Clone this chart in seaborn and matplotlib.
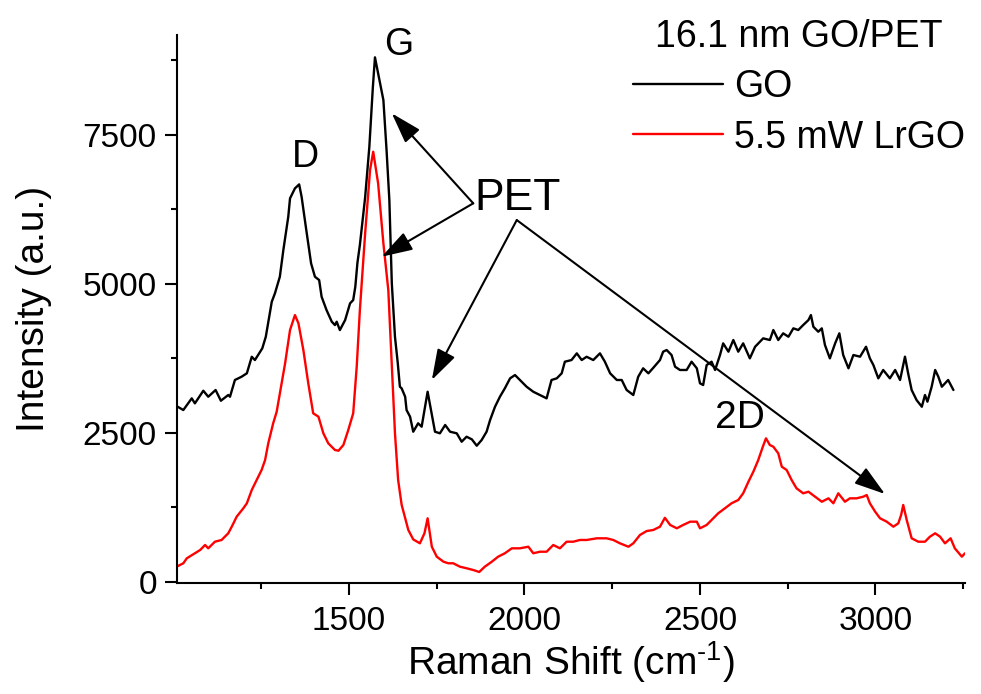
import matplotlib
matplotlib.use("Agg")
import matplotlib.pyplot as plt
from matplotlib.lines import Line2D
from matplotlib.ticker import FixedLocator
import pandas as pd
import seaborn as sns

# Raman spectra of 16.1 nm GO film on PET, before and after laser reduction
go_shift = [1012, 1028, 1052, 1061, 1085, 1099, 1120, 1135, 1156, 1161, 1175, 1194,
            1209, 1223, 1232, 1253, 1263, 1280, 1289, 1303, 1313, 1327, 1332, 1346,
            1358, 1365, 1377, 1392, 1403, 1415, 1422, 1436, 1451, 1460, 1465, 1474,
            1489, 1503, 1512, 1518, 1524, 1531, 1546, 1558, 1568, 1574, 1598, 1607,
            1615, 1622, 1631, 1639, 1645, 1650, 1660, 1664, 1674, 1683, 1697, 1707,
            1724, 1745, 1759, 1774, 1788, 1807, 1821, 1835, 1850, 1864, 1878, 1892,
            1902, 1916, 1930, 1944, 1959, 1973, 1987, 2006, 2025, 2044, 2063, 2077,
            2092, 2106, 2115, 2134, 2149, 2163, 2177, 2196, 2215, 2229, 2244, 2263,
            2277, 2291, 2310, 2324, 2338, 2353, 2367, 2386, 2395, 2405, 2419, 2429,
            2443, 2462, 2476, 2491, 2500, 2509, 2519, 2533, 2543, 2557, 2566, 2581,
            2595, 2609, 2623, 2642, 2657, 2680, 2699, 2709, 2723, 2737, 2752, 2766,
            2780, 2794, 2809, 2816, 2823, 2837, 2847, 2856, 2870, 2885, 2897, 2908,
            2923, 2937, 2956, 2973, 2984, 2994, 3008, 3022, 3041, 3056, 3070, 3084,
            3093, 3103, 3117, 3132, 3141, 3148, 3160, 3170, 3179, 3189, 3198, 3207,
            3222]
go_intensity = [2936, 2881, 3077, 2993, 3205, 3104, 3217, 3037, 3133, 3104, 3385, 3440,
                3497, 3775, 3720, 3916, 4111, 4698, 4839, 5118, 5566, 6125, 6433, 6601,
                6668, 6460, 5957, 5343, 5118, 5062, 4782, 4559, 4363, 4307, 4363, 4223,
                4391, 4671, 4727, 4950, 5350, 5650, 6450, 7300, 8300, 8800, 8083, 7244,
                6405, 5007, 4111, 3665, 3272, 3245, 3104, 2881, 2769, 2517, 2658, 2601,
                3188, 2517, 2490, 2630, 2517, 2490, 2349, 2433, 2389, 2282, 2378, 2517,
                2713, 2936, 3104, 3245, 3413, 3468, 3385, 3272, 3188, 3133, 3077, 3385,
                3413, 3497, 3692, 3720, 3832, 3720, 3775, 3720, 3832, 3692, 3497, 3385,
                3385, 3217, 3133, 3440, 3581, 3497, 3590, 3720, 3860, 3888, 3804, 3608,
                3553, 3553, 3692, 3581, 3329, 3301, 3636, 3692, 3553, 3804, 4000, 3860,
                4056, 3860, 4000, 3748, 3943, 4084, 4056, 4224, 4056, 4168, 4111, 4252,
                4224, 4307, 4391, 4475, 4279, 4195, 4252, 3972, 3748, 4000, 4168, 3804,
                3581, 3804, 3776, 3943, 3748, 3636, 3413, 3553, 3413, 3553, 3385, 3776,
                3497, 3217, 3049, 2936, 3133, 3021, 3272, 3553, 3440, 3272, 3329, 3385,
                3217]

lrgo_shift = [1009, 1028, 1038, 1061, 1076, 1090, 1099, 1118, 1137, 1156, 1166, 1180,
              1199, 1209, 1223, 1237, 1251, 1261, 1270, 1284, 1294, 1308, 1318, 1332,
              1346, 1356, 1370, 1384, 1398, 1413, 1427, 1441, 1460, 1470, 1484, 1498,
              1512, 1522, 1531, 1546, 1560, 1569, 1583, 1598, 1612, 1622, 1631, 1640,
              1650, 1669, 1683, 1702, 1715, 1724, 1736, 1750, 1769, 1783, 1797, 1816,
              1835, 1854, 1871, 1887, 1907, 1925, 1944, 1964, 1987, 2011, 2025, 2044,
              2063, 2082, 2101, 2120, 2139, 2158, 2177, 2206, 2234, 2253, 2272, 2296,
              2310, 2329, 2348, 2367, 2386, 2400, 2415, 2434, 2452, 2472, 2491, 2500,
              2519, 2533, 2552, 2571, 2590, 2609, 2623, 2638, 2652, 2666, 2679, 2688,
              2699, 2709, 2723, 2733, 2747, 2761, 2775, 2794, 2809, 2828, 2847, 2866,
              2880, 2894, 2913, 2927, 2946, 2965, 2975, 2984, 2999, 3013, 3032, 3051,
              3065, 3073, 3079, 3089, 3103, 3122, 3141, 3155, 3170, 3184, 3198, 3214,
              3226, 3246, 3255]
lrgo_intensity = [252, 309, 393, 477, 532, 616, 560, 671, 700, 812, 923, 1091,
                  1232, 1316, 1539, 1707, 1874, 2042, 2322, 2658, 2853, 3329, 3665, 4223,
                  4475, 4336, 3888, 3329, 2826, 2769, 2490, 2322, 2210, 2198, 2294, 2546,
                  2826, 3608, 4559, 5846, 6908, 7216, 6685, 5678, 4895, 3608, 2490, 1707,
                  1290, 868, 710, 644, 812, 1064, 587, 420, 336, 309, 309, 252,
                  225, 196, 163, 252, 336, 420, 477, 560, 560, 587, 477, 503,
                  503, 616, 560, 671, 671, 700, 700, 728, 728, 700, 644, 587,
                  644, 784, 850, 868, 923, 1072, 952, 896, 952, 1007, 1007, 896,
                  952, 1035, 1148, 1232, 1316, 1371, 1483, 1678, 1846, 2042, 2265, 2406,
                  2294, 2265, 2154, 1930, 1874, 1707, 1567, 1483, 1510, 1426, 1342, 1399,
                  1316, 1483, 1342, 1399, 1399, 1426, 1455, 1316, 1175, 1064, 1007, 923,
                  980, 1119, 1287, 1035, 728, 671, 671, 755, 812, 755, 644, 728,
                  560, 420, 477]

series_names = ["GO", "5.5 mW LrGO"]
series_colors = ["#000000", "#ff0000"]
legend_title = "16.1 nm GO/PET"

x_major = [1500, 2000, 2500, 3000]
x_minor = [1250, 1750, 2250, 2750, 3250]
y_major = [0, 2500, 5000, 7500]
y_minor = [1250, 3750, 6250, 8750]

# peak labels and PET arrows (text, anchor in data units)
peak_labels = [("D", 1375, 6959, 27), ("G", 1642, 8838, 27),
               ("PET", 1980, 6236, 32), ("2D", 2613, 2579, 28)]
pet_arrows = [((1854, 6350), (1622, 7860)),
              ((1854, 6350), (1593, 5454)),
              ((1978, 6069), (1736, 3385)),
              ((1978, 6069), (3027, 1472))]

sns.set_style("ticks")
plt.rcParams["font.family"] = ["Liberation Sans", "DejaVu Sans"]
plt.rcParams["mathtext.fontset"] = "custom"
plt.rcParams["mathtext.rm"] = "Liberation Sans"
plt.rcParams["mathtext.it"] = "Liberation Sans"
plt.rcParams["mathtext.default"] = "regular"
for key in ("text.color", "axes.labelcolor", "xtick.color", "ytick.color",
            "axes.edgecolor"):
    plt.rcParams[key] = "black"

df = pd.concat([
    pd.DataFrame({"shift": go_shift, "intensity": go_intensity, "sample": series_names[0]}),
    pd.DataFrame({"shift": lrgo_shift, "intensity": lrgo_intensity, "sample": series_names[1]}),
], ignore_index=True)

fig = plt.figure(figsize=(9.81, 6.94), dpi=100)
ax = fig.add_axes([177 / 981, 1 - 583 / 694, (965 - 177) / 981, (583 - 35) / 694])

sns.lineplot(data=df, x="shift", y="intensity", hue="sample",
             palette=dict(zip(series_names, series_colors)), hue_order=series_names,
             estimator=None, sort=False, linewidth=1.7, legend=False, ax=ax)

ax.set_xlim(1010, 3255)
ax.set_ylim(-22, 9175)
ax.xaxis.set_major_locator(FixedLocator(x_major))
ax.xaxis.set_minor_locator(FixedLocator(x_minor))
ax.yaxis.set_major_locator(FixedLocator(y_major))
ax.yaxis.set_minor_locator(FixedLocator(y_minor))

sns.despine(ax=ax)
for side in ("left", "bottom"):
    ax.spines[side].set_linewidth(1.5)
    ax.spines[side].set_color("black")
ax.tick_params(which="major", direction="out", length=8.5, width=1.5, color="black",
               labelsize=24, labelcolor="black")
ax.tick_params(which="minor", direction="out", length=4.5, width=1.5, color="black")
ax.tick_params(axis="x", which="major", pad=8)
ax.tick_params(axis="y", which="major", pad=6)

ax.set_xlabel(r"Raman Shift (cm$^{\text{-}1}$)", fontsize=28, labelpad=2)
ax.set_ylabel("Intensity (a.u.)", fontsize=28, labelpad=22)

for text, x, y, size in peak_labels:
    ax.text(x, y, text, fontsize=size, ha="center", va="baseline", color="black")

for start, tip in pet_arrows:
    ax.annotate("", xy=tip, xytext=start,
                arrowprops=dict(arrowstyle="-|>,head_length=1.9,head_width=0.6",
                                mutation_scale=10, color="black", lw=1.5,
                                shrinkA=0, shrinkB=0))

handles = [Line2D([], [], color=c, lw=1.7) for c in series_colors]
leg = ax.legend(handles, series_names, title=legend_title, fontsize=27,
                title_fontsize=27, frameon=False, loc="upper left",
                bbox_to_anchor=(633 / 981, 1 - 19 / 694), bbox_transform=fig.transFigure,
                borderpad=0, borderaxespad=0, handlelength=2.4, handletextpad=0.3,
                labelspacing=0.38)

fig.savefig("out.png", dpi=100)
